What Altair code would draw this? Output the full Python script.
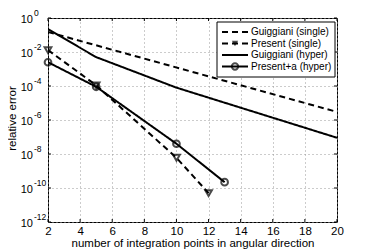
import altair as alt
import pandas as pd

# ---- data ----
gs_x = [2, 20]
gs_y = [1.5e-1, 3e-6]                       # Guiggiani (single)
ps_x = [2, 5, 10, 12]
ps_y = [1.3e-2, 1.1e-4, 6e-9, 5e-11]        # Present (single)
gh_x = [2, 5, 10, 20]
gh_y = [2.2e-1, 5e-3, 8e-5, 9e-8]           # Guiggiani (hyper)
pa_x = [2, 5, 10, 13]
pa_y = [2.5e-3, 9e-5, 4e-8, 2.2e-10]        # Present+a (hyper)

series_names = ["Guiggiani (single)", "Present (single)", "Guiggiani (hyper)", "Present+a (hyper)"]
x_ticks = [2, 4, 6, 8, 10, 12, 14, 16, 18, 20]
y_exps = [0, -2, -4, -6, -8, -10, -12]

W, H = 289, 204
FONT = "Liberation Sans"

rows = []
for name, xs, ys in zip(series_names, [gs_x, ps_x, gh_x, pa_x], [gs_y, ps_y, gh_y, pa_y]):
    for a, b in zip(xs, ys):
        rows.append({"series": name, "x": a, "y": b})
df = pd.DataFrame(rows)

xscale = alt.Scale(domain=[2, 20], nice=False)
yscale = alt.Scale(type="log", domain=[1e-12, 1], nice=False)
dash_scale = alt.Scale(domain=series_names, range=[[6, 4], [6, 4], [1, 0], [1, 0]])

x_axis = alt.Axis(values=x_ticks, title="number of integration points in angular direction",
                  grid=True, gridDash=[1, 3], gridColor="#999999", gridWidth=1,
                  ticks=False, domain=False, labelFontSize=11.5, labelPadding=3,
                  labelOverlap=False, labelFlush=False,
                  labelFont=FONT, labelColor="black",
                  titleFont=FONT, titleFontSize=11.5, titleFontWeight="normal",
                  titleColor="black", titleX=144.5, titleY=24.5, titleBaseline="alphabetic",
                  titleAlign="center")
y_axis = alt.Axis(values=[10.0 ** e for e in y_exps], labels=False, title="relative error",
                  grid=True, gridDash=[1, 3], gridColor="#999999", gridWidth=1,
                  ticks=False, domain=False,
                  titleFont=FONT, titleFontSize=11.5, titleFontWeight="normal",
                  titleColor="black", titleX=-36, titleY=100, titleAngle=270,
                  titleBaseline="middle", titleAlign="center")


def X(field):
    return alt.X(field, scale=xscale, axis=x_axis, title="number of integration points in angular direction")


def Y(field):
    return alt.Y(field, scale=yscale, axis=y_axis, title="relative error")


lines = alt.Chart(df).mark_line(color="black", strokeWidth=2, clip=True).encode(
    x=X("x:Q"),
    y=Y("y:Q"),
    strokeDash=alt.StrokeDash("series:N", scale=dash_scale, legend=None),
    detail="series:N",
)

tri = alt.Chart(df[df.series == "Present (single)"]).mark_point(
    shape="triangle-down", filled=False, color="black", strokeWidth=2, size=45
).encode(x=X("x:Q"), y=Y("y:Q"))

circ = alt.Chart(df[df.series == "Present+a (hyper)"]).mark_point(
    shape="circle", filled=False, color="black", strokeWidth=2, size=45
).encode(x=X("x:Q"), y=Y("y:Q"))

# y tick labels: "10" with superscript exponent
lab_df = pd.DataFrame({"y": [10.0 ** e for e in y_exps], "t": [str(e) for e in y_exps], "b": ["10"] * len(y_exps)})
bases = alt.Chart(lab_df).mark_text(
    align="right", baseline="middle", fontSize=11, font=FONT, color="black", dy=2
).encode(x=alt.value(-15), y=Y("y:Q"), text="b:N")
exps = alt.Chart(lab_df).mark_text(
    align="left", baseline="middle", fontSize=8.5, font=FONT, color="black", dy=-5
).encode(x=alt.value(-14), y=Y("y:Q"), text="t:N")

# inward ticks (box style)
xt_df = pd.DataFrame({"x": x_ticks})
yt_df = pd.DataFrame({"y": [10.0 ** e for e in y_exps]})
xt_bot = alt.Chart(xt_df).mark_rule(color="black", strokeWidth=1).encode(
    x=X("x:Q"), y=alt.value(H), y2=alt.value(H - 3))
xt_top = alt.Chart(xt_df).mark_rule(color="black", strokeWidth=1).encode(
    x=X("x:Q"), y=alt.value(0), y2=alt.value(3))
yt_l = alt.Chart(yt_df).mark_rule(color="black", strokeWidth=1).encode(
    y=Y("y:Q"), x=alt.value(0), x2=alt.value(3))
yt_r = alt.Chart(yt_df).mark_rule(color="black", strokeWidth=1).encode(
    y=Y("y:Q"), x=alt.value(W), x2=alt.value(W - 3))

# legend
lx0, lx1, ly0, ly1 = 169, 287, 4, 59
leg_box = alt.Chart(pd.DataFrame({"a": [0]})).mark_rect(
    fill="white", stroke="black", strokeWidth=1
).encode(x=alt.value(lx0), x2=alt.value(lx1), y=alt.value(ly0), y2=alt.value(ly1))
leg_layers = [leg_box]
row_y = [14, 25.5, 37, 48.5]
dashes = [[6, 4], [6, 4], [1, 0], [1, 0]]
shapes = [None, "triangle-down", None, "circle"]
for name, ry, d, s in zip(series_names, row_y, dashes, shapes):
    one = alt.Chart(pd.DataFrame({"label": [name]}))
    leg_layers.append(one.mark_rule(color="black", strokeWidth=2, strokeDash=d).encode(
        x=alt.value(174), x2=alt.value(200), y=alt.value(ry)))
    if s is not None:
        leg_layers.append(one.mark_point(shape=s, filled=(s == "triangle-down"), color="black",
                                         strokeWidth=2, size=40).encode(
            x=alt.value(187), y=alt.value(ry)))
    leg_layers.append(one.mark_text(align="left", baseline="middle", fontSize=10,
                                    font=FONT, color="black").encode(
        x=alt.value(203), y=alt.value(ry), text="label:N"))

chart = alt.layer(
    lines, tri, circ, bases, exps, xt_bot, xt_top, yt_l, yt_r, *leg_layers
).properties(
    width=W, height=H,
    autosize=alt.AutoSizeParams(type="none"),
    padding={"left": 40, "top": 10, "right": 29, "bottom": 30},
).configure_view(stroke="black", strokeWidth=1)

chart.save("out.html", embed_options={"renderer": "svg", "actions": False})
